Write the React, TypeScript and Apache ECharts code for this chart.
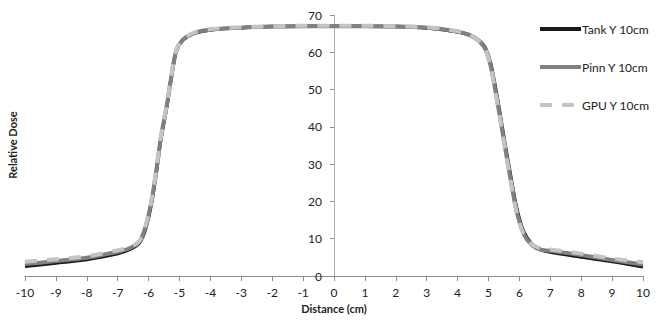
import React, { useEffect, useRef } from "react";
import * as echarts from "echarts";

const distance = [-10, -9, -8, -7, -6.6, -6.3, -6.1, -5.9, -5.75, -5.6, -5.4, -5.25, -5.1, -4.9, -4.55, -4, -3, -2, -1, 0, 1, 2, 3, 3.75, 4.4, 4.85, 5.05, 5.2, 5.37, 5.53, 5.7, 5.9, 6.13, 6.4, 6.7, 7, 8, 9, 10];

const tankY10 = [2.6, 3.5, 4.4, 6.0, 7.2, 8.9, 12.6, 19.8, 27.8, 36.8, 46.0, 54.0, 60.4, 63.2, 65.0, 66.0, 66.6, 66.9, 67.0, 67.0, 67.0, 66.9, 66.5, 65.8, 64.6, 61.8, 57.6, 51.6, 43.6, 35.6, 27.6, 18.6, 12.0, 8.6, 7.1, 6.4, 5.1, 3.9, 2.5];
const pinnY10 = [3.2, 4.0, 4.9, 6.5, 7.5, 9.2, 13.2, 20.4, 28.4, 37.3, 46.3, 54.3, 60.6, 63.3, 65.1, 66.1, 66.6, 66.9, 67.0, 67.0, 67.0, 66.9, 66.6, 65.9, 64.6, 61.5, 57.0, 50.7, 42.7, 34.7, 26.6, 17.7, 11.4, 8.3, 7.0, 6.8, 5.6, 4.3, 3.1];
const gpuY10 = [3.8, 4.5, 5.3, 6.9, 7.8, 9.4, 13.4, 20.6, 28.6, 37.5, 46.5, 54.5, 60.7, 63.4, 65.2, 66.2, 66.7, 67.0, 67.1, 67.1, 67.1, 67.0, 66.7, 66.0, 64.7, 61.5, 57.0, 50.5, 42.4, 34.4, 26.3, 17.5, 11.4, 8.5, 7.4, 7.1, 6.0, 4.7, 3.7];

const seriesNames = ["Tank Y 10cm", "Pinn Y 10cm", "GPU Y 10cm"];
const xTicks = { min: -10, max: 10, interval: 1 };
const yTicks = { min: 0, max: 70, interval: 10 };

const FONT = "Lato, 'Open Sans', sans-serif";

export default function App() {
  const ref = useRef<HTMLDivElement>(null);
  useEffect(() => {
    if (!ref.current) return;
    const chart = echarts.init(ref.current, undefined, { renderer: "svg" });
    const pair = (ys: number[]) => distance.map((x, i) => [x, ys[i]]);
    const gridLeft = 25;
    const gridRight = 18;
    const plotWidth = 661 - gridLeft - gridRight;
    // y axis sits on x = 0, i.e. the middle of the symmetric x range
    const yAxisOffset = -plotWidth * ((0 - xTicks.min) / (xTicks.max - xTicks.min));
    chart.setOption({
      animation: false,
      textStyle: { fontFamily: FONT },
      grid: { left: gridLeft, right: gridRight, top: 15, bottom: 49, containLabel: false },
      legend: {
        orient: "vertical",
        left: 533,
        top: 18,
        itemWidth: 41,
        itemHeight: 14,
        itemGap: 26,
        itemStyle: { opacity: 0 },
        lineStyle: { width: 4 },
        textStyle: { fontFamily: FONT, fontSize: 12, color: "#222", padding: [0, 0, 0, -4] },
        data: seriesNames,
      },
      xAxis: {
        type: "value",
        min: xTicks.min,
        max: xTicks.max,
        interval: xTicks.interval,
        name: "Distance (cm)",
        nameLocation: "middle",
        nameGap: 27,
        nameTextStyle: { fontFamily: FONT, fontSize: 11, fontWeight: "bold", color: "#222" },
        axisLine: { onZero: false, lineStyle: { color: "#8c8c8c", width: 1 } },
        axisTick: { show: true, length: 5, inside: false, lineStyle: { color: "#8c8c8c" } },
        axisLabel: { fontFamily: FONT, fontSize: 12, color: "#222", margin: 10 },
        splitLine: { show: false },
      },
      yAxis: {
        type: "value",
        min: yTicks.min,
        max: yTicks.max,
        interval: yTicks.interval,
        position: "left",
        offset: yAxisOffset,
        axisLine: { show: true, onZero: false, lineStyle: { color: "#b0b0b0", width: 1 } },
        axisTick: { show: true, length: 4, inside: false, lineStyle: { color: "#8c8c8c" } },
        axisLabel: { fontFamily: FONT, fontSize: 12, color: "#222", margin: 12 },
        splitLine: { show: false },
      },
      graphic: [
        {
          type: "text",
          x: 12,
          y: 145,
          rotation: Math.PI / 2,
          style: {
            text: "Relative Dose",
            fontFamily: FONT,
            fontSize: 11,
            fontWeight: "bold",
            fill: "#222",
            align: "center",
            verticalAlign: "middle",
          },
        },
      ],
      series: [
        {
          name: seriesNames[0],
          type: "line",
          smooth: 0.3,
          showSymbol: false,
          symbol: "none",
          data: pair(tankY10),
          lineStyle: { color: "#1a1a1a", width: 3.5 },
          itemStyle: { color: "#1a1a1a" },
        },
        {
          name: seriesNames[1],
          type: "line",
          smooth: 0.3,
          showSymbol: false,
          symbol: "none",
          data: pair(pinnY10),
          lineStyle: { color: "#808080", width: 4 },
          itemStyle: { color: "#808080" },
        },
        {
          name: seriesNames[2],
          type: "line",
          smooth: 0.3,
          showSymbol: false,
          symbol: "none",
          data: pair(gpuY10),
          lineStyle: { color: "#c4c4c4", width: 4, type: [12, 10] },
          itemStyle: { color: "#c4c4c4" },
        },
      ],
    });
    return () => chart.dispose();
  }, []);
  return <div ref={ref} style={{ width: 661, height: 325, position: "absolute", left: 0, top: 0 }} />;
}
